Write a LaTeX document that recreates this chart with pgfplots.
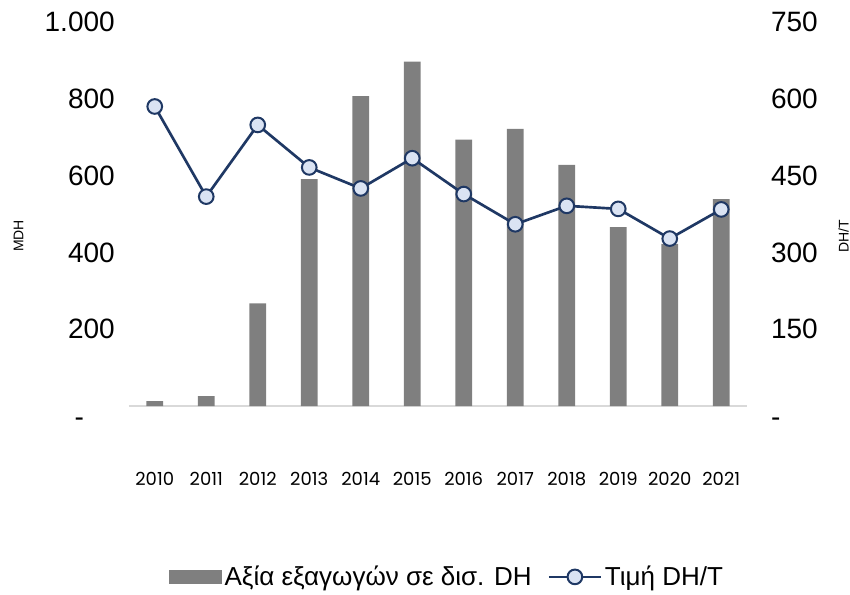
\documentclass[border=0pt]{standalone}
\usepackage{pgfplots}
\pgfplotsset{compat=1.18}
\usepackage{fontspec}
\setmainfont{Liberation Sans}
\newfontfamily\yearfont{Poppins}
\definecolor{barc}{HTML}{7F7F7F}
\definecolor{navy}{HTML}{1F3864}
\definecolor{mfill}{HTML}{DAE3F3}
\definecolor{baseln}{HTML}{D9D9D9}
\pgfplotsset{
  mylinelegend/.style={legend image code/.code={%
    \draw[mark repeat=2,mark phase=2,##1] plot coordinates {(0pt,0pt) (19.5pt,0pt) (39pt,0pt)};}},
  mybarlegend/.style={legend image code/.code={%
    \fill[barc] (0pt,-4.9pt) rectangle (39pt,4.9pt);}}}
\begin{document}
\begin{tikzpicture}
\pgfplotsset{every axis/.append style={
  scale only axis, width=463.5pt, height=288pt,
  xmin=-0.5, xmax=11.5, ymin=0,
  axis line style={draw=none}, major tick length=0pt,
  tick label style={font=\fontsize{21}{25}\selectfont}}}
% bars, left axis
\begin{axis}[ymax=1000,
  ytick={0,200,400,600,800,1000},
  yticklabels={\smash{\raisebox{-15.5pt}{-}}\hspace*{23pt},200,400,600,800,1.000},
  yticklabel style={anchor=east, inner sep=0pt, xshift=-10.5pt},
  xtick={0,...,11},
  xticklabels={2010,2011,2012,2013,2014,2015,2016,2017,2018,2019,2020,2021},
  xticklabel style={font=\yearfont\fontsize{13.5}{16}\selectfont, anchor=center, inner sep=0pt, yshift=-55pt},
  ylabel={MDH},
  every axis y label/.style={at={([xshift=-82.9pt]axis description cs:0,0.443)}, rotate=90, anchor=center, font=\fontsize{10.5}{12}\selectfont},
]
\draw[baseln, line width=1.2pt] (axis cs:-0.5,0) -- (axis cs:11.5,0);
\addplot[ybar, bar width=12.5pt, fill=barc, draw=none] coordinates {
  (0,13) (1,26) (2,267) (3,591) (4,807) (5,897)
  (6,694) (7,722) (8,628) (9,466) (10,422) (11,539)};
\end{axis}
% price line, right axis
\begin{axis}[ymax=750,
  xtick=\empty,
  ytick={0,150,300,450,600,750},
  yticklabels={\smash{\raisebox{-15.5pt}{-}},150,300,450,600,750},
  yticklabel pos=right,
  yticklabel style={anchor=west, inner sep=0pt, xshift=17.8pt},
  ylabel={DH/T},
  every axis y label/.style={at={([xshift=72.4pt]axis description cs:1,0.443)}, rotate=90, anchor=center, font=\fontsize{10.5}{12}\selectfont},
  legend style={at={(axis description cs:0.5154,-0.445)}, anchor=center,
    draw=none, fill=none, font=\fontsize{19.5}{23}\selectfont,
    legend columns=-1, nodes={inner sep=2pt},
    /tikz/every even column/.append style={column sep=10pt}},
  legend cell align=left,
]
\addlegendimage{mybarlegend}
\addlegendentry{Αξία εξαγωγών σε δισ. DH}
\addplot[navy, line width=2pt, mark=*, mark size=5.5pt,
  mark options={fill=mfill, draw=navy, line width=1.5pt}, mylinelegend]
  coordinates {
  (0,585) (1,409) (2,549) (3,466) (4,425) (5,484)
  (6,414) (7,355) (8,391) (9,385) (10,327) (11,384)};
\addlegendentry{Τιμή DH/T}
\end{axis}
\pgfresetboundingbox
\path[use as bounding box] (-96.75pt,-141pt) rectangle (540.75pt,304.5pt);
\end{tikzpicture}
\end{document}
